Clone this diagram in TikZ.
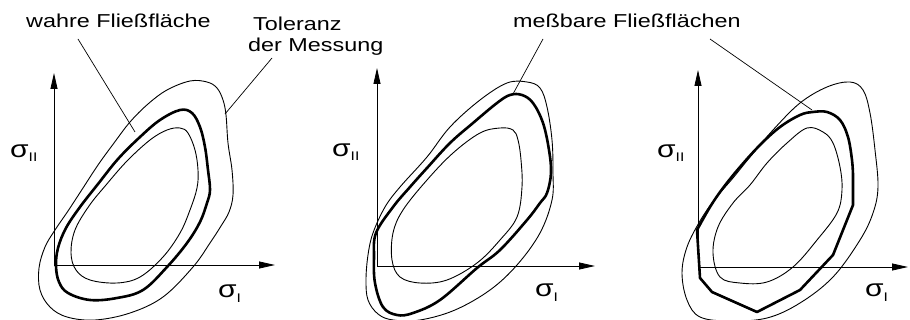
\documentclass[tikz,border=0pt]{standalone}
\usepackage{fontspec}
\setmainfont[FakeStretch=1.25]{Liberation Sans}
\usetikzlibrary{arrows.meta}
\newcommand\mysigOne{{\fontsize{24}{24}\selectfont σ}\raisebox{-5pt}{\fontsize{12.5}{12.5}\selectfont I}}
\newcommand\mysigTwo{{\fontsize{24}{24}\selectfont σ}\raisebox{-4pt}{\fontsize{12.5}{12.5}\selectfont II}}
\begin{document}
\begin{tikzpicture}[x=1pt,y=-1pt,
  thincurve/.style={line width=0.9pt},
  boldcurve/.style={line width=2.6pt, line join=round},
  axis/.style={line width=0.8pt, -{Triangle[length=16pt,width=7pt]}},
  leader/.style={line width=0.7pt},
  lab/.style={inner sep=0pt, anchor=base west, font=\fontsize{18.7}{22}\selectfont},
  sig/.style={inner sep=0pt, anchor=base west}]
\useasboundingbox (0,0) rectangle (910,320);

% ---------- labels ----------
\node[lab] (wahre) at (26,28) {wahre Fließfläche};
\node[lab] (tol) at (253,31) {Toleranz};
\node[lab] (mess) at (248,52) {der Messung};
\node[lab] (mb) at (513,28) {meßbare Fließflächen};

% ---------- panel 1 ----------
\coordinate (o1) at (54,265);
\coordinate (y1) at (54,73);
\coordinate (x1) at (275,265);
\draw[axis] (o1) -- (y1);
\draw[axis] (o1) -- (x1);
\node[sig] (s1y) at (10,158) {\mysigTwo};
\node[sig] (s1x) at (218,298) {\mysigOne};

\draw[thincurve] plot[smooth cycle, tension=0.6] coordinates {
 (190,81) (207,82) (217,88) (223,100) (226,115) (228,143) (232,170) (233,195)
 (229,212) (221,226) (210,243) (193,267) (163,297) (130,313) (95,320) (67,317)
 (50,307) (40,290) (39,268) (45,247) (55,230) (68,211) (83,188) (98,165)
 (114,143) (130,122) (148,104) (167,90)};
\draw[boldcurve] plot[smooth cycle, tension=0.6] coordinates {
 (180,110) (192,113) (200,127) (205,147) (208,170) (210,190) (207,203) (200,222)
 (187,243) (167,267) (143,290) (117,298) (90,300) (68,293) (59,282) (56,266)
 (58,248) (66,228) (80,207) (98,184) (118,159) (140,137) (160,120)};
\draw[thincurve] plot[smooth cycle, tension=0.6] coordinates {
 (180,128) (188,133) (195,150) (198,170) (197,188) (190,210) (180,233) (163,257)
 (140,277) (117,283) (90,280) (76,270) (71,253) (75,230) (89,206) (106,185)
 (127,161) (150,140) (167,130)};

\coordinate (w1) at (78,39);
\coordinate (w2) at (135,132);
\draw[leader] (w1) -- (w2);
\coordinate (t1) at (272,58);
\coordinate (t2) at (225,114);
\draw[leader] (t1) -- (t2);

% ---------- panel 2 ----------
\coordinate (o2) at (377,266);
\coordinate (y2) at (377,68);
\coordinate (x2) at (595,266);
\draw[axis] (o2) -- (y2);
\draw[axis] (o2) -- (x2);
\node[sig] (s2y) at (332,157) {\mysigTwo};
\node[sig] (s2x) at (535,297) {\mysigOne};

\draw[thincurve] plot[smooth cycle, tension=0.6] coordinates {
 (507,83) (527,82) (540,88) (547,107) (552,140) (553,173) (552,200) (540,233)
 (517,265) (490,290) (455,310) (420,320) (393,320) (378,314) (368,300) (366,280)
 (368,255) (373,233) (385,207) (400,187) (427,157) (450,127) (480,100)};
\draw[boldcurve] plot[smooth cycle, tension=0.6] coordinates {
 (510,95) (522,95) (533,103) (543,123) (549,150) (551,173) (547,193) (540,203)
 (527,220) (500,250) (477,268) (440,300) (413,313) (397,315) (383,307) (375,283)
 (374,257) (376,233) (393,207) (410,187) (427,168) (450,143) (473,123) (497,103)};
\draw[thincurve] plot[smooth cycle, tension=0.6] coordinates {
 (500,128) (513,130) (518,140) (521,160) (522,187) (517,217) (500,240) (477,263)
 (447,280) (420,283) (400,277) (392,260) (393,233) (403,210) (427,180) (453,153)
 (480,133)};

\coordinate (m1) at (543,39);
\coordinate (m2) at (513,94);
\draw[leader] (m1) -- (m2);

% ---------- panel 3 ----------
\coordinate (o3) at (698,267);
\coordinate (y3) at (698,70);
\coordinate (x3) at (908,267);
\draw[axis] (o3) -- (y3);
\draw[axis] (o3) -- (x3);
\node[sig] (s3y) at (657,158) {\mysigTwo};
\node[sig] (s3x) at (865,297) {\mysigOne};

\draw[thincurve] plot[smooth cycle, tension=0.6] coordinates {
 (827,87) (850,82) (863,90) (870,113) (875,150) (878,187) (873,213) (860,240)
 (833,277) (800,303) (767,318) (730,321) (700,317) (687,300) (682,273) (687,247)
 (700,221) (715,199) (733,178) (750,157) (773,130) (800,103)};
\draw[boldcurve] plot[smooth, tension=0.6] coordinates {
 (853,175) (852,160) (848,137) (840,120) (827,112) (813,112) (800,115) (780,127)
 (760,145) (740,167) (723,188) (710,207) (697,230)}
 -- (700,278) -- (712,292) -- (757,312) -- (800,290) -- (833,255) -- (853,205) -- cycle;
\draw[thincurve] plot[smooth cycle, tension=0.6] coordinates {
 (807,128) (823,132) (833,143) (840,167) (842,190) (837,213) (817,240) (793,267)
 (767,282) (740,283) (720,277) (713,253) (718,227) (733,203) (750,185) (767,163)
 (787,143)};

\coordinate (n1) at (710,39);
\coordinate (n2) at (812,110);
\draw[leader] (n1) -- (n2);
\end{tikzpicture}
\end{document}
